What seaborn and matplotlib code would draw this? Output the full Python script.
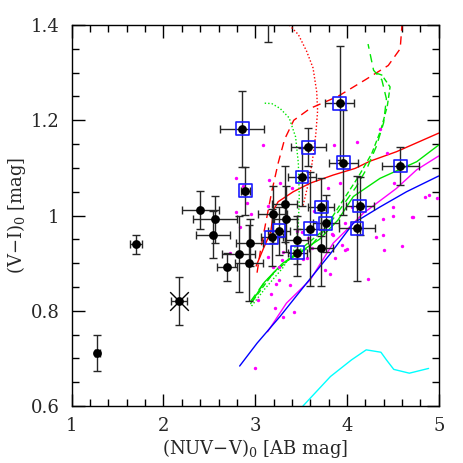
import numpy as np
import pandas as pd
import matplotlib
matplotlib.use("Agg")
import matplotlib.pyplot as plt
from matplotlib.ticker import MultipleLocator, FuncFormatter
import seaborn as sns

# ---------------- data ----------------
# observed clusters: x=(NUV-V)0, y=(V-I)0, errors, boxed flag
obs_x  = [1.28, 1.70, 2.17, 2.40, 2.565, 2.54, 2.69, 2.82, 2.94, 2.93, 2.86, 2.89,
          3.51, 3.58, 3.92, 3.96, 4.58, 4.14, 4.11, 3.32, 3.19, 3.33, 3.72, 3.26,
          3.18, 3.45, 3.60, 3.77, 3.46, 3.72, 3.14]
obs_y  = [0.711, 0.940, 0.821, 1.012, 0.992, 0.960, 0.892, 0.919, 0.943, 0.900, 1.182, 1.052,
          1.081, 1.143, 1.236, 1.111, 1.104, 1.020, 0.973, 1.024, 1.003, 0.993, 1.018, 0.968,
          0.954, 0.949, 0.972, 0.984, 0.922, 0.932, 1.46]
obs_xe = [0.03, 0.07, 0.09, 0.20, 0.24, 0.19, 0.11, 0.18, 0.15, 0.15, 0.24, 0.05,
          0.15, 0.19, 0.16, 0.16, 0.20, 0.15, 0.20, 0.14, 0.16, 0.12, 0.14, 0.12,
          0.12, 0.13, 0.15, 0.14, 0.10, 0.13, 0.10]
obs_ye = [0.038, 0.02, 0.05, 0.04, 0.05, 0.05, 0.03, 0.08, 0.05, 0.08, 0.08, 0.05,
          0.06, 0.04, 0.12, 0.11, 0.04, 0.06, 0.11, 0.08, 0.06, 0.07, 0.06, 0.05,
          0.06, 0.05, 0.12, 0.06, 0.05, 0.08, 0.095]
obs_box = [0, 0, 0, 0, 0, 0, 0, 0, 0, 0, 1, 1,
           1, 1, 1, 1, 1, 1, 1, 0, 0, 0, 1, 1,
           1, 0, 1, 1, 1, 0, 0]
star_x = [2.17]
star_y = [0.821]

# comparison sample (magenta dots)
mag_x = [2.787, 2.870, 3.082, 3.154, 3.270, 3.398, 3.790, 3.924, 3.859, 4.106, 4.360, 4.436,
         4.516, 4.851, 4.898, 2.907, 2.791, 2.954, 2.834, 2.725, 3.143, 3.641, 3.979, 4.052,
         4.004, 4.313, 4.396, 4.404, 4.390, 4.505, 4.597, 4.717, 4.985, 4.233, 3.452, 3.507,
         3.579, 3.616, 3.568, 3.518, 3.761, 3.834, 3.870, 3.815, 3.263, 3.227, 3.379, 3.172,
         3.216, 3.306, 3.426, 3.027, 2.998, 3.306, 3.143, 3.197, 3.259, 3.289, 4.50, 4.705,
         3.943, 3.979, 3.851]
mag_y = [1.078, 1.063, 1.149, 1.075, 1.068, 1.057, 1.058, 1.068, 1.149, 1.154, 1.182, 1.132,
         1.068, 1.038, 1.043, 1.026, 1.008, 1.003, 0.975, 0.921, 1.020, 1.010, 0.984, 1.018,
         0.930, 0.955, 0.959, 0.928, 0.992, 0.999, 0.936, 0.997, 1.036, 0.867, 0.968, 0.966,
         0.952, 0.932, 0.910, 0.908, 0.886, 0.961, 0.910, 0.877, 0.865, 0.856, 0.854, 0.835,
         0.805, 0.788, 0.798, 0.823, 0.679, 0.924, 0.912, 0.892, 0.892, 0.907, 1.018, 0.997,
         0.938, 0.928, 0.959]

# model tracks
red_solid_x  = [3.01, 3.09, 3.17, 3.20, 3.25, 3.415, 3.60, 3.85, 4.09, 4.25, 4.54, 5.0]
red_solid_y  = [0.894, 0.931, 0.966, 1.012, 1.029, 1.050, 1.068, 1.085, 1.099, 1.114, 1.134, 1.173]
red_dash_x   = [3.02, 3.06, 3.12, 3.18, 3.25, 3.32, 3.42, 3.60, 3.90, 4.20, 4.45, 4.58, 4.60]
red_dash_y   = [0.88, 0.93, 0.99, 1.05, 1.11, 1.16, 1.20, 1.225, 1.25, 1.285, 1.315, 1.35, 1.40]
red_dot_x    = [3.37, 3.47, 3.56, 3.63, 3.67, 3.68, 3.66, 3.62, 3.57, 3.52]
red_dot_y    = [1.40, 1.38, 1.345, 1.31, 1.26, 1.22, 1.17, 1.11, 1.06, 1.02]
green_solid_x = [2.95, 3.10, 3.30, 3.50, 3.70, 3.90, 4.07, 4.36, 4.76, 5.0]
green_solid_y = [0.815, 0.86, 0.90, 0.925, 0.95, 0.99, 1.04, 1.078, 1.113, 1.148]
green_dash_x  = [2.95, 3.10, 3.35, 3.60, 3.80, 3.95, 4.10, 4.22, 4.32, 4.40, 4.43, 4.38, 4.29, 4.23]
green_dash_y  = [0.82, 0.86, 0.905, 0.935, 0.98, 1.02, 1.06, 1.10, 1.145, 1.195, 1.245, 1.285, 1.305, 1.36]
green_dash2_x = [2.97, 3.20, 3.50, 3.75, 3.95, 4.12, 4.27, 4.37, 4.44, 4.47, 4.38, 4.30]
green_dash2_y = [0.82, 0.88, 0.93, 0.97, 1.03, 1.08, 1.13, 1.18, 1.23, 1.27, 1.295, 1.30]
green_dot_x   = [2.96, 3.10, 3.30, 3.43, 3.47, 3.48, 3.47, 3.44, 3.37, 3.27, 3.18, 3.09]
green_dot_y   = [0.81, 0.845, 0.89, 0.93, 0.98, 1.04, 1.11, 1.165, 1.205, 1.225, 1.235, 1.236]
magenta_x = [3.135, 3.34, 3.60, 3.85, 4.18, 4.54, 4.76, 5.0]
magenta_y = [0.756, 0.816, 0.865, 0.942, 1.005, 1.057, 1.096, 1.125]
blue_x = [2.83, 3.02, 3.27, 3.56, 3.82, 4.07, 4.36, 4.65, 5.0]
blue_y = [0.684, 0.732, 0.788, 0.858, 0.92, 0.984, 1.018, 1.05, 1.083]
cyan_x = [3.52, 3.82, 4.05, 4.21, 4.37, 4.43, 4.51, 4.68, 4.89]
cyan_y = [0.60, 0.662, 0.697, 0.718, 0.713, 0.697, 0.677, 0.669, 0.679]

xticks = [1, 2, 3, 4, 5]
yticks = [0.6, 0.8, 1.0, 1.2, 1.4]

# ---------------- style ----------------
sns.set_style("ticks")
plt.rcParams["font.family"] = ["DejaVu Serif"]
plt.rcParams["mathtext.fontset"] = "dejavuserif"

fig = plt.figure(figsize=(4.63, 4.63), dpi=100)
ax = fig.add_axes([0.155, 0.123, 0.7925, 0.823])

lines = [
    (red_solid_x, red_solid_y, (1, 0, 0), "-"),
    (red_dash_x, red_dash_y, (1, 0, 0), (0, (6, 4))),
    (red_dot_x, red_dot_y, (1, 0, 0), (0, (1, 1.5))),
    (green_solid_x, green_solid_y, (0, 0.9, 0), "-"),
    (green_dash_x, green_dash_y, (0, 0.9, 0), (0, (6, 4))),
    (green_dash2_x, green_dash2_y, (0, 0.9, 0), (0, (4, 2))),
    (green_dot_x, green_dot_y, (0, 0.9, 0), (0, (1, 1.5))),
    (magenta_x, magenta_y, (1, 0, 1), "-"),
    (blue_x, blue_y, (0, 0, 1), "-"),
    (cyan_x, cyan_y, (0, 1, 1), "-"),
]
for lx, ly, col, ls in lines:
    df = pd.DataFrame({"x": lx, "y": ly})
    l = sns.lineplot(data=df, x="x", y="y", sort=False, estimator=None, ax=ax,
                     color=col, lw=1.0)
    l.get_lines()[-1].set_linestyle(ls)

# magenta comparison dots
sns.scatterplot(x=mag_x, y=mag_y, ax=ax, color=(1, 0, 1), s=6, linewidth=0, zorder=3)

# error bars
ax.errorbar(obs_x, obs_y, xerr=obs_xe, yerr=obs_ye, fmt="none", ecolor="0.15",
            elinewidth=1.0, capsize=3, capthick=1.0, zorder=4)

obs = pd.DataFrame({"x": obs_x, "y": obs_y, "box": obs_box})
boxed = obs[obs["box"] == 1]
sns.scatterplot(data=boxed, x="x", y="y", ax=ax, marker="s", s=85,
                facecolor="none", edgecolor=(0.1, 0.1, 1), linewidth=1.2, zorder=5)
sns.scatterplot(data=obs, x="x", y="y", ax=ax, color="black", s=40,
                linewidth=0, zorder=6)
sns.scatterplot(x=star_x, y=star_y, ax=ax, marker="x", s=180, color="black",
                linewidth=1.0, zorder=6)

ax.set_xlim(1, 5)
ax.set_ylim(0.6, 1.4)
ax.set_xticks(xticks)
ax.set_yticks(yticks)
ax.xaxis.set_minor_locator(MultipleLocator(0.2))
ax.yaxis.set_minor_locator(MultipleLocator(0.05))
fmt = FuncFormatter(lambda v, p: "%g" % v)
ax.xaxis.set_major_formatter(fmt)
ax.yaxis.set_major_formatter(fmt)
ax.tick_params(which="both", direction="in", top=True, right=True, width=1.0,
               color="black", labelsize=13)
ax.tick_params(axis="y", which="both", pad=9)
ax.tick_params(axis="x", which="both", pad=8)
ax.tick_params(which="major", length=9)
ax.tick_params(which="minor", length=5)
for sp in ax.spines.values():
    sp.set_color("black")
    sp.set_linewidth(1.0)

ax.set_xlabel(r"(NUV$-$V)$_0$ [AB mag]", fontsize=13, labelpad=1)
ax.set_ylabel(r"(V$-$I)$_0$ [mag]", fontsize=13, labelpad=2)

fig.savefig("out.png", dpi=100)
